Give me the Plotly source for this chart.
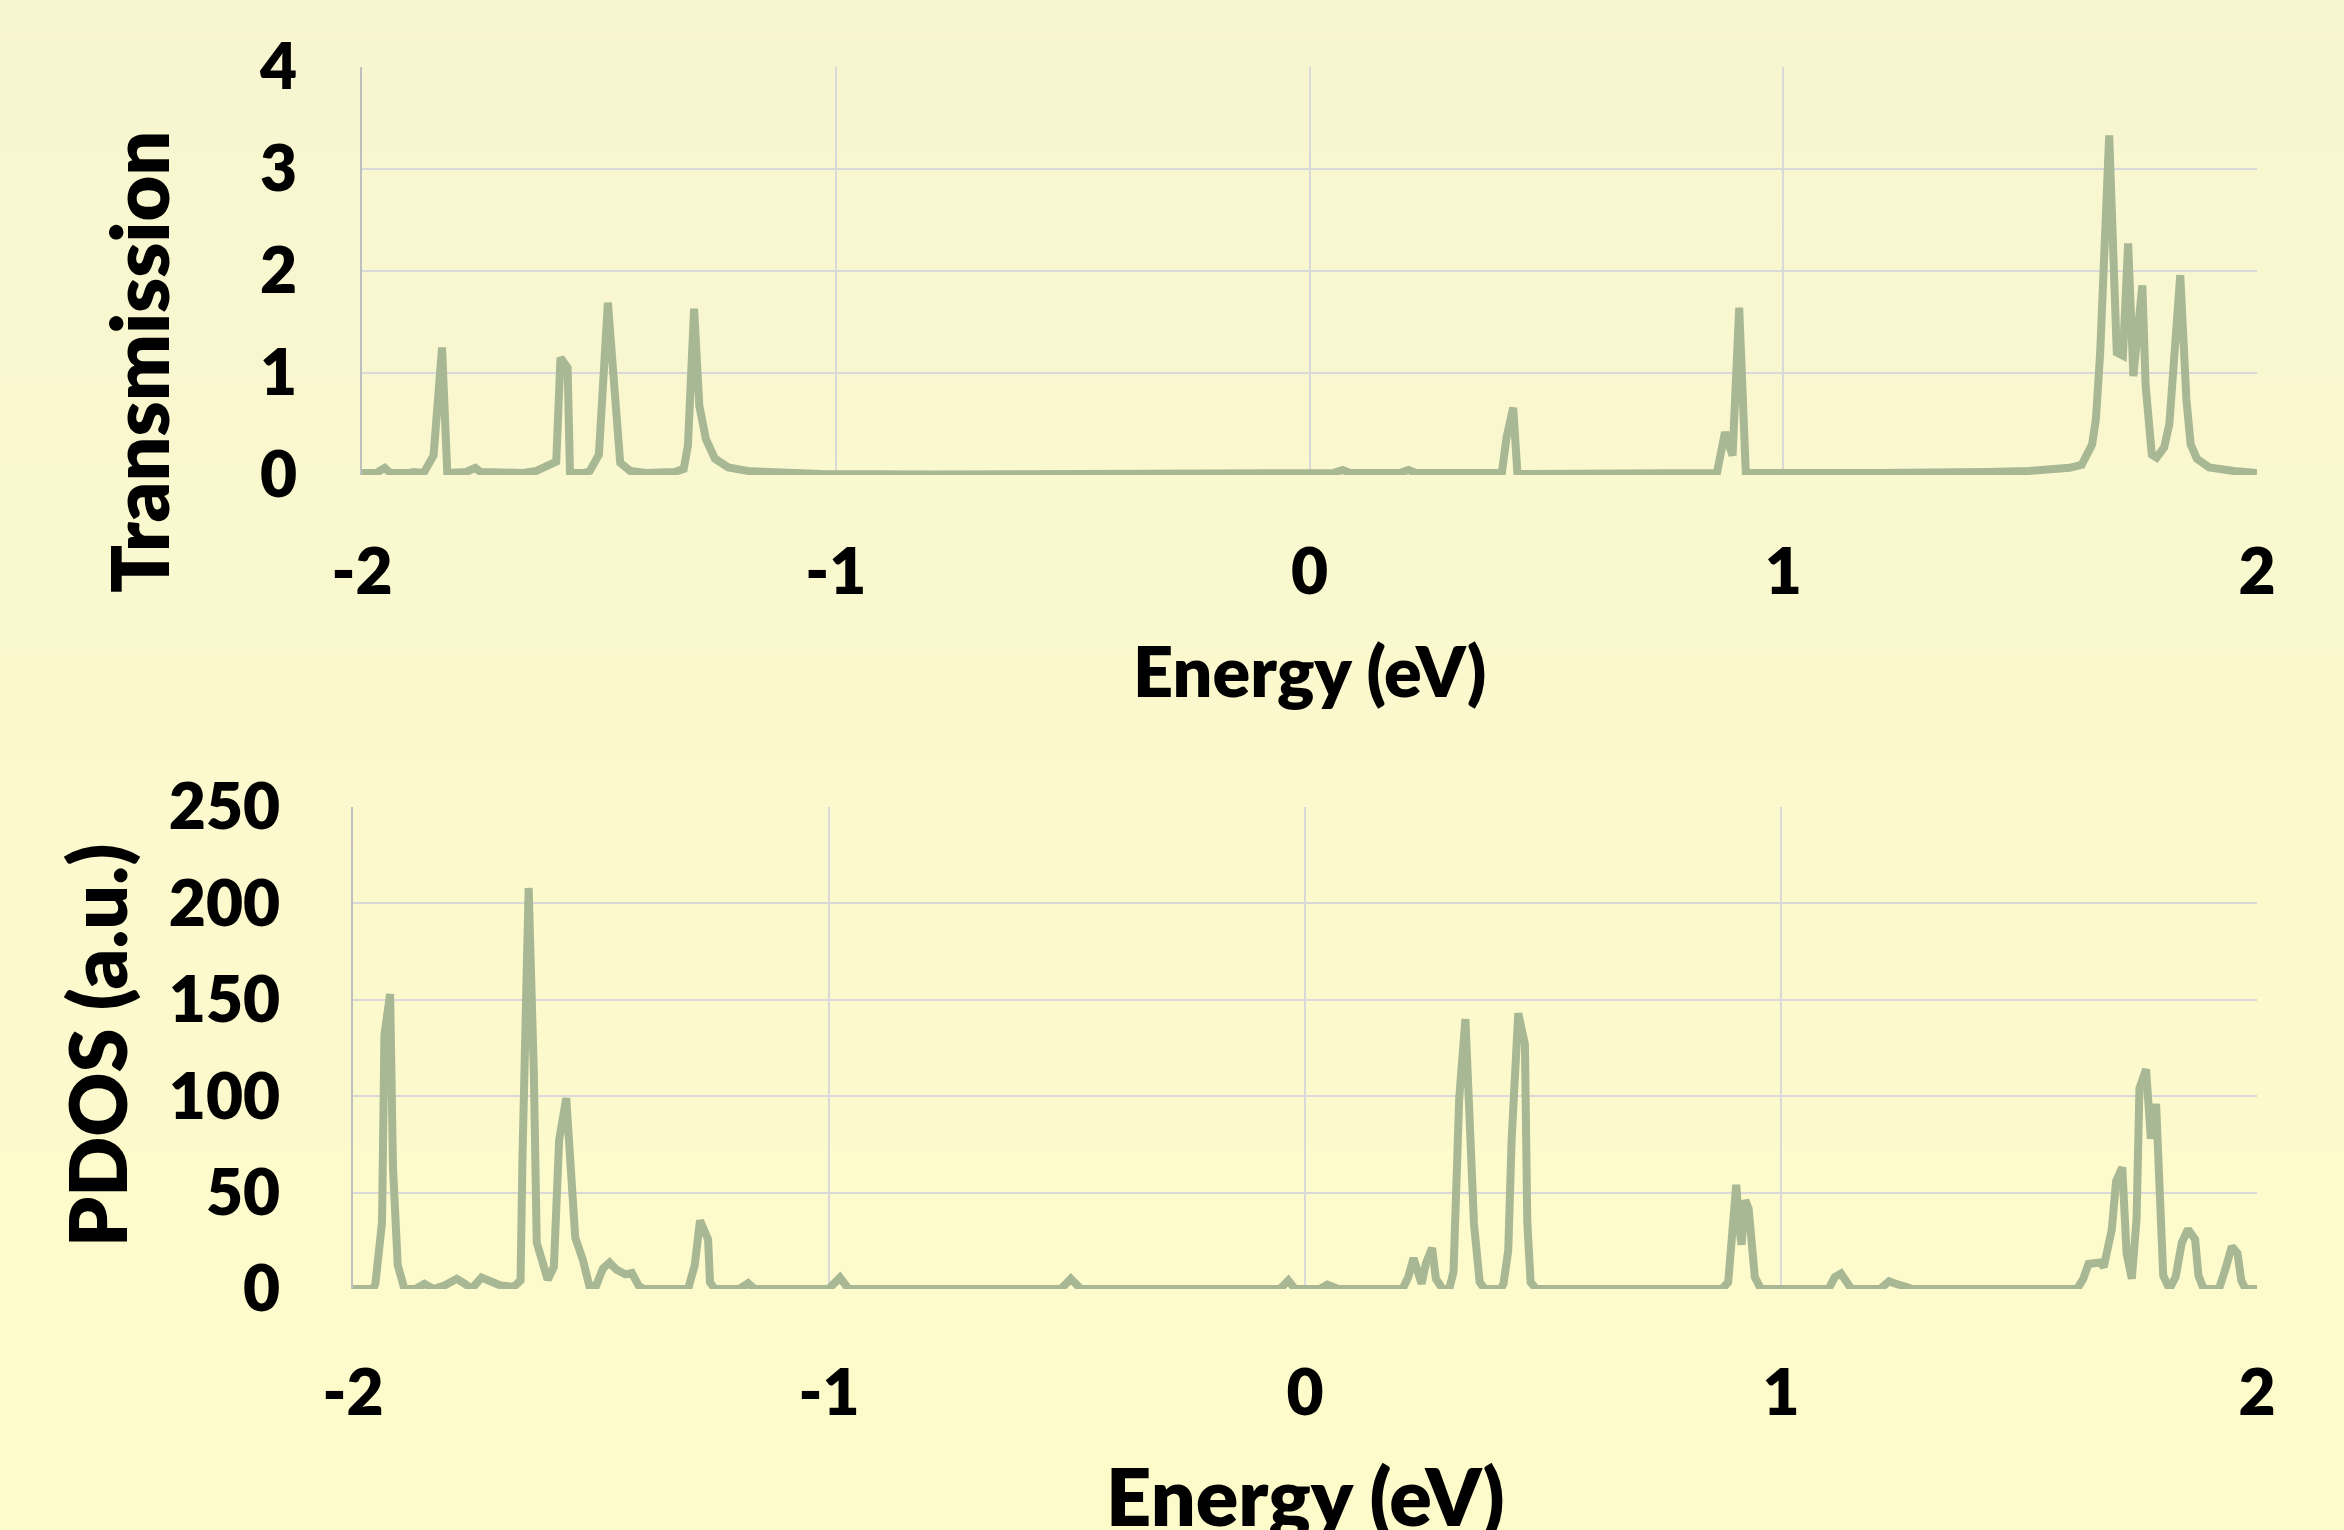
import plotly.graph_objects as go

# ---------------- data ----------------
energy_T = [-2.0, -1.97, -1.952, -1.94, -1.9, -1.89, -1.87, -1.849, -1.831, -1.82, -1.78, -1.761, -1.75,
            -1.66, -1.632, -1.603, -1.59, -1.581, -1.566, -1.561, -1.53, -1.519, -1.5, -1.481, -1.463,
            -1.455, -1.434, -1.40, -1.34, -1.321, -1.312, -1.299, -1.288, -1.274, -1.255, -1.227, -1.18,
            -1.124, -1.03, -0.8, 0.0, 0.05, 0.07, 0.085, 0.19, 0.209, 0.225, 0.406, 0.416, 0.43, 0.439,
            0.86, 0.877, 0.893, 0.907, 0.921, 1.2, 1.344, 1.431, 1.518, 1.57, 1.604, 1.63, 1.652, 1.66,
            1.669, 1.688, 1.704, 1.717, 1.728, 1.739, 1.758, 1.765, 1.778, 1.788, 1.804, 1.815, 1.825,
            1.838, 1.851, 1.86, 1.873, 1.899, 1.951, 2.0]
transmission = [0.02, 0.02, 0.07, 0.02, 0.02, 0.03, 0.02, 0.19, 1.25, 0.02, 0.03, 0.07, 0.03,
                0.02, 0.04, 0.1, 0.13, 1.15, 1.05, 0.02, 0.02, 0.04, 0.2, 1.69, 0.48,
                0.12, 0.04, 0.02, 0.03, 0.06, 0.29, 1.63, 0.68, 0.35, 0.16, 0.075, 0.036,
                0.02, 0.01, 0.005, 0.01, 0.02, 0.05, 0.02, 0.02, 0.05, 0.02, 0.02, 0.37, 0.66, 0.01,
                0.02, 0.42, 0.19, 1.64, 0.02, 0.02, 0.02, 0.03, 0.04, 0.05, 0.07, 0.1, 0.3, 0.55,
                1.2, 3.33, 1.2, 1.17, 2.27, 0.97, 1.86, 0.87, 0.2, 0.17, 0.27, 0.5, 1.17,
                1.96, 0.74, 0.3, 0.16, 0.075, 0.04, 0.02]

energy_P = [-2.0, -1.958, -1.953, -1.939, -1.934, -1.922, -1.916, -1.906, -1.892, -1.869, -1.85, -1.831,
            -1.808, -1.782, -1.765, -1.751, -1.73, -1.709, -1.69, -1.662, -1.648, -1.644, -1.631, -1.62,
            -1.614, -1.601, -1.591, -1.578, -1.567, -1.552, -1.54, -1.533, -1.517, -1.503, -1.489, -1.475,
            -1.461, -1.447, -1.428, -1.414, -1.4, -1.39, -1.296, -1.282, -1.271, -1.254, -1.25, -1.24,
            -1.189, -1.17, -1.156, -1.001, -0.977, -0.959, -0.513, -0.492, -0.471, -0.053, -0.035, -0.021,
            0.031, 0.047, 0.07, 0.205, 0.217, 0.228, 0.245, 0.254, 0.267, 0.275, 0.289, 0.303, 0.312,
            0.324, 0.337, 0.35, 0.355, 0.367, 0.378, 0.411, 0.417, 0.427, 0.434, 0.448, 0.462, 0.467,
            0.474, 0.486, 0.876, 0.889, 0.896, 0.906, 0.912, 0.917, 0.925, 0.932, 0.945, 0.958, 1.1,
            1.113, 1.126, 1.139, 1.148, 1.208, 1.227, 1.238, 1.268, 1.277, 1.622, 1.635, 1.646, 1.661,
            1.67, 1.678, 1.687, 1.695, 1.704, 1.717, 1.726, 1.737, 1.747, 1.753, 1.767, 1.777, 1.788,
            1.795, 1.803, 1.816, 1.829, 1.842, 1.855, 1.87, 1.877, 1.888, 1.92, 1.933, 1.947, 1.959,
            1.967, 1.976, 2.0]
pdos = [0, 0, 2.7, 34.6, 132, 153, 63, 12.4, 0, 0, 2.7, 0,
        1.8, 5.3, 2.7, 0, 5.9, 3.5, 1.8, 1.2, 4.4, 68, 208, 111,
        24, 13.3, 4.8, 11.5, 77, 99, 50.6, 26.6, 15, 1.2, 1.8, 10.6,
        13.7, 10.1, 7.6, 8.3, 1.8, 0, 0, 12.4, 35.5, 25.7, 3.5, 0,
        0, 3, 0, 0, 5.9, 0, 0, 5.3, 0, 0, 4.4, 0,
        0, 2.3, 0, 0, 6.2, 16, 2.7, 13.3, 21.3, 5.3, 0, 0, 8.9,
        99, 140, 77, 33.7, 3.5, 0, 0, 2.7, 20, 77, 143, 127, 34.6,
        3.5, 0, 0, 3.5, 27.5, 54, 32.8, 23, 46, 41.7, 6.2, 0, 0,
        6.2, 8, 2.7, 0, 0, 4, 3, 0.5, 0, 0, 5.3, 13, 13,
        13.7, 11.5, 21.3, 31, 56, 63, 18.6, 5.3, 36.4, 104, 114, 78, 96,
        61, 7, 0, 6.2, 24, 31, 25.7, 7, 0, 0, 9.8, 22, 18.6,
        4.4, 0, 0]

x_tickvals = [-2, -1, 0, 1, 2]
x_ticktext = ["-2", "-1", "0", "1", "2"]
yT_tickvals = [0, 1, 2, 3, 4]
yP_tickvals = [0, 50, 100, 150, 200, 250]

# ---------------- layout helpers ----------------
W, H = 2344, 1530
def px_x(p):
    return p / W
def px_y(p):
    return 1 - p / H

LINE_COLOR = "#A8B794"
GRID = "#D9D9D9"
FONT = "Lato"

fig = go.Figure()
fig.add_trace(go.Scatter(x=energy_T, y=transmission, mode="lines",
                         line=dict(color=LINE_COLOR, width=8), xaxis="x", yaxis="y",
                         showlegend=False, hoverinfo="skip"))
fig.add_trace(go.Scatter(x=energy_P, y=pdos, mode="lines",
                         line=dict(color=LINE_COLOR, width=8), xaxis="x2", yaxis="y2",
                         showlegend=False, hoverinfo="skip"))

tickfont = dict(family=FONT, size=64, color="#000000", weight=800)

common_x = dict(range=[-2, 2], tickvals=x_tickvals, ticktext=x_ticktext, showgrid=True,
                gridcolor=GRID, gridwidth=2, zeroline=False, showline=False, ticks="",
                tickfont=tickfont, fixedrange=True)
common_y = dict(showgrid=True, gridcolor=GRID, gridwidth=2, zeroline=False, showline=True,
                linecolor="#BFBFBF", linewidth=2, ticks="", tickfont=tickfont, fixedrange=True)

# background gradient strips
top_rgb = (248, 246, 208)
bot_rgb = (254, 251, 202)
n = 40
shapes = []
for i in range(n):
    t = i / (n - 1)
    c = tuple(round(top_rgb[k] + (bot_rgb[k] - top_rgb[k]) * t) for k in range(3))
    shapes.append(dict(type="rect", xref="paper", yref="paper", x0=0, x1=1,
                       y0=1 - (i + 1) / n, y1=1 - i / n, fillcolor="rgb(%d,%d,%d)" % c,
                       line=dict(width=0), layer="below"))

title_font = dict(family=FONT, color="#000", weight=800)
annotations = [
    dict(text="Energy (eV)", x=px_x(1309), y=px_y(670), xref="paper", yref="paper",
         showarrow=False, xanchor="center", yanchor="middle", font=dict(size=70, **title_font)),
    dict(text="Energy (eV)", x=px_x(1305), y=px_y(1495), xref="paper", yref="paper",
         showarrow=False, xanchor="center", yanchor="middle", font=dict(size=79, **title_font)),
    dict(text="Transmission", x=px_x(138), y=px_y(362), xref="paper", yref="paper",
         showarrow=False, xanchor="center", yanchor="middle", textangle=-90,
         font=dict(size=79, **title_font)),
    dict(text="PDOS (a.u.)", x=px_x(96), y=px_y(1046), xref="paper", yref="paper",
         showarrow=False, xanchor="center", yanchor="middle", textangle=-90,
         font=dict(size=79, **title_font)),
]

fig.update_layout(
    width=W, height=H,
    margin=dict(l=0, r=0, t=0, b=0, pad=0, autoexpand=False),
    paper_bgcolor="rgb(250,248,206)",
    plot_bgcolor="rgba(0,0,0,0)",
    shapes=shapes,
    annotations=annotations,
    xaxis=dict(domain=[px_x(362), px_x(2257)], anchor="y", ticklabelstandoff=54, **common_x),
    yaxis=dict(domain=[px_y(475), px_y(67)], anchor="x", range=[0, 4], tickvals=yT_tickvals,
               ticklabelstandoff=50, **common_y),
    xaxis2=dict(domain=[px_x(353), px_x(2257)], anchor="y2", ticklabelstandoff=61, **common_x),
    yaxis2=dict(domain=[px_y(1289), px_y(807)], anchor="x2", range=[0, 250], tickvals=yP_tickvals,
                ticklabelstandoff=58, **common_y),
)

fig.write_html("out.html", config={"displayModeBar": False},
               post_script="document.body.style.margin='0';document.body.style.overflow='hidden';")
